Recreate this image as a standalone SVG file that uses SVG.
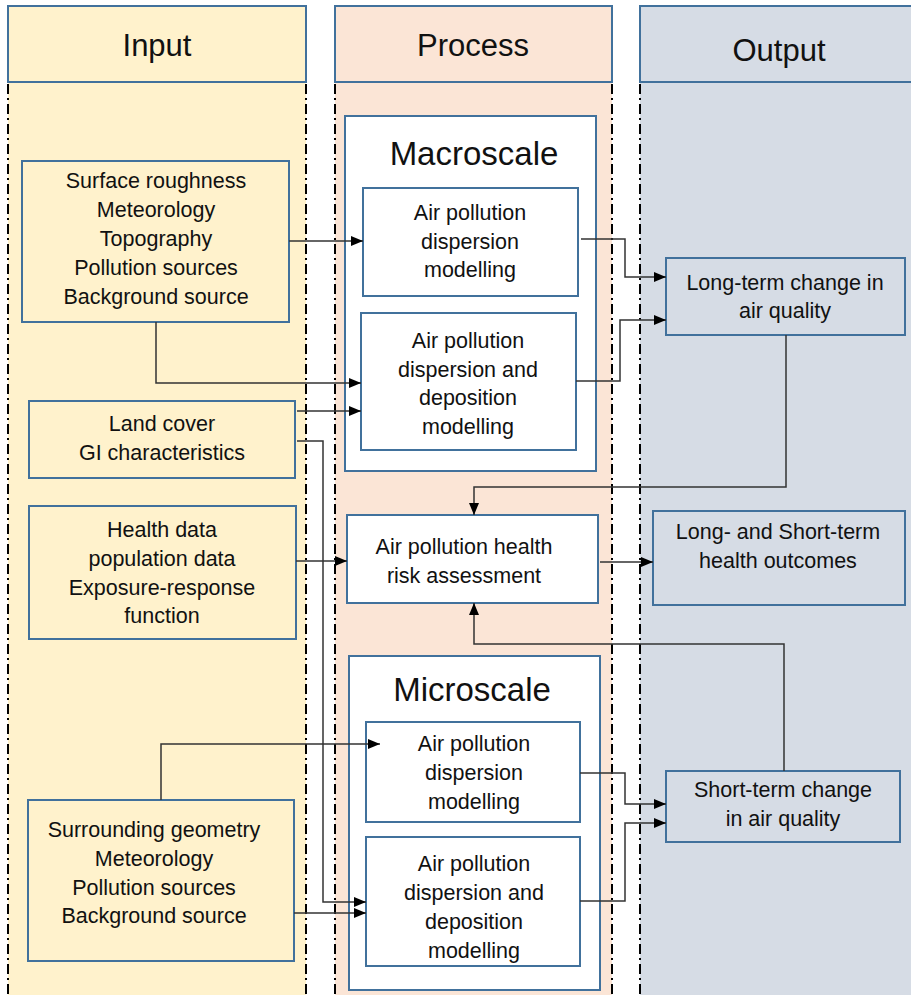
<svg xmlns="http://www.w3.org/2000/svg" width="911" height="995" viewBox="0 0 911 995">
<defs>
<marker id="arr" viewBox="0 0 12 10" refX="12" refY="5" markerWidth="12" markerHeight="10" markerUnits="userSpaceOnUse" orient="auto">
<path d="M0,0 L12,5 L0,10 Z" fill="#000"/>
</marker>
<style>
.hdr{stroke:#41719C;stroke-width:2}
.node{stroke:#41719C;stroke-width:2}
.in{fill:#FFF2CC}
.pr{fill:#FFFFFF}
.out{fill:#D6DCE5}
.dd{fill:none;stroke:#000;stroke-width:2;stroke-dasharray:10 4 2 4}
text{font-family:"Liberation Sans",Arial,sans-serif;font-size:21.5px;fill:#111;text-anchor:middle}
.h{font-size:31px}
.t{font-size:33px}
.c{fill:none;stroke:#333;stroke-width:1.5}
.ca{fill:none;stroke:#333;stroke-width:1.5;marker-end:url(#arr)}
</style>
</defs>
<rect width="911" height="995" fill="#fff"/>
<g id="columns">
<rect x="8" y="82" width="298" height="913" fill="#FFF2CC"/>
<rect x="335" y="82" width="277" height="913" fill="#FBE5D6"/>
<rect x="640" y="82" width="271" height="913" fill="#D6DCE5"/>
<line class="dd" x1="8" y1="84" x2="8" y2="995"/>
<line class="dd" x1="306" y1="84" x2="306" y2="995"/>
<line class="dd" x1="335" y1="84" x2="335" y2="995"/>
<line class="dd" x1="612" y1="84" x2="612" y2="995"/>
<line class="dd" x1="640" y1="84" x2="640" y2="995"/>
</g>
<g id="hdr-input"><rect class="hdr" x="8" y="6" width="298" height="76" fill="#FFF2CC"/><text class="h" x="157" y="56">Input</text></g>
<g id="hdr-process"><rect class="hdr" x="335" y="6" width="277" height="76" fill="#FBE5D6"/><text class="h" x="473" y="56">Process</text></g>
<g id="hdr-output"><rect class="hdr" x="640" y="6" width="280" height="76" fill="#D6DCE5"/><text class="h" x="779" y="61">Output</text></g>

<g id="macroscale"><rect class="node pr" x="345" y="116" width="251" height="355"/><text class="t" x="474" y="165">Macroscale</text></g>
<g id="macro-disp"><rect class="node pr" x="363" y="188" width="215" height="108"/>
<text x="470" y="220">Air pollution</text><text x="470" y="249">dispersion</text><text x="470" y="277">modelling</text></g>
<g id="macro-dep"><rect class="node pr" x="361" y="313" width="215" height="137"/>
<text x="468" y="348">Air pollution</text><text x="468" y="377">dispersion and</text><text x="468" y="405">deposition</text><text x="468" y="434">modelling</text></g>

<g id="surface"><rect class="node in" x="22" y="161" width="267" height="161"/>
<text x="156" y="188">Surface roughness</text><text x="156" y="217">Meteorology</text><text x="156" y="246">Topography</text><text x="156" y="275">Pollution sources</text><text x="156" y="304">Background source</text></g>
<g id="landcover"><rect class="node in" x="29" y="401" width="266" height="77"/>
<text x="162" y="431">Land cover</text><text x="162" y="460">GI characteristics</text></g>
<g id="health"><rect class="node in" x="29" y="506" width="267" height="133"/>
<text x="162" y="537">Health data</text><text x="162" y="566">population data</text><text x="162" y="595">Exposure-response</text><text x="162" y="623">function</text></g>

<g id="risk"><rect class="node pr" x="347" y="515" width="251" height="88"/>
<text x="464" y="554">Air pollution health</text><text x="464" y="583">risk assessment</text></g>

<g id="longterm"><rect class="node out" x="666" y="258" width="239" height="77"/>
<text x="785" y="290">Long-term change in</text><text x="785" y="318">air quality</text></g>
<g id="outcomes"><rect class="node out" x="653" y="511" width="252" height="94"/>
<text x="778" y="539">Long- and Short-term</text><text x="778" y="568">health outcomes</text></g>

<g id="microscale"><rect class="node pr" x="349" y="656" width="251" height="334"/><text class="t" x="472" y="701">Microscale</text></g>
<g id="micro-disp"><rect class="node pr" x="366" y="722" width="214" height="100"/>
<text x="474" y="751">Air pollution</text><text x="474" y="780">dispersion</text><text x="474" y="809">modelling</text></g>
<g id="micro-dep"><rect class="node pr" x="366" y="837" width="214" height="129"/>
<text x="474" y="871">Air pollution</text><text x="474" y="900">dispersion and</text><text x="474" y="929">deposition</text><text x="474" y="958">modelling</text></g>

<g id="surrounding"><rect class="node in" x="28" y="800" width="266" height="161"/>
<text x="154" y="837">Surrounding geometry</text><text x="154" y="866">Meteorology</text><text x="154" y="895">Pollution sources</text><text x="154" y="923">Background source</text></g>

<g id="shortterm"><rect class="node out" x="666" y="771" width="234" height="71"/>
<text x="783" y="797">Short-term change</text><text x="783" y="826">in air quality</text></g>

<g id="connectors">
<path class="ca" d="M289,241 H363"/>
<path class="ca" d="M156,322 V383 H361"/>
<path class="ca" d="M297,411 H361"/>
<path class="ca" d="M297,441 H323 V902 H366"/>
<path class="ca" d="M294,913 H366"/>
<path class="ca" d="M161,800 V744 H380"/>
<path class="ca" d="M296,561 H347"/>
<path class="ca" d="M581,239 H625 V277 H666"/>
<path class="ca" d="M576,381 H620 V320 H666"/>
<path class="ca" d="M786,335 V487 H474 V515"/>
<path class="ca" d="M600,562 H653"/>
<path class="ca" d="M784,771 V644 H474 V603"/>
<path class="ca" d="M580,773 H625 V804 H666"/>
<path class="ca" d="M580,901 H625 V823 H666"/>
</g>
</svg>
